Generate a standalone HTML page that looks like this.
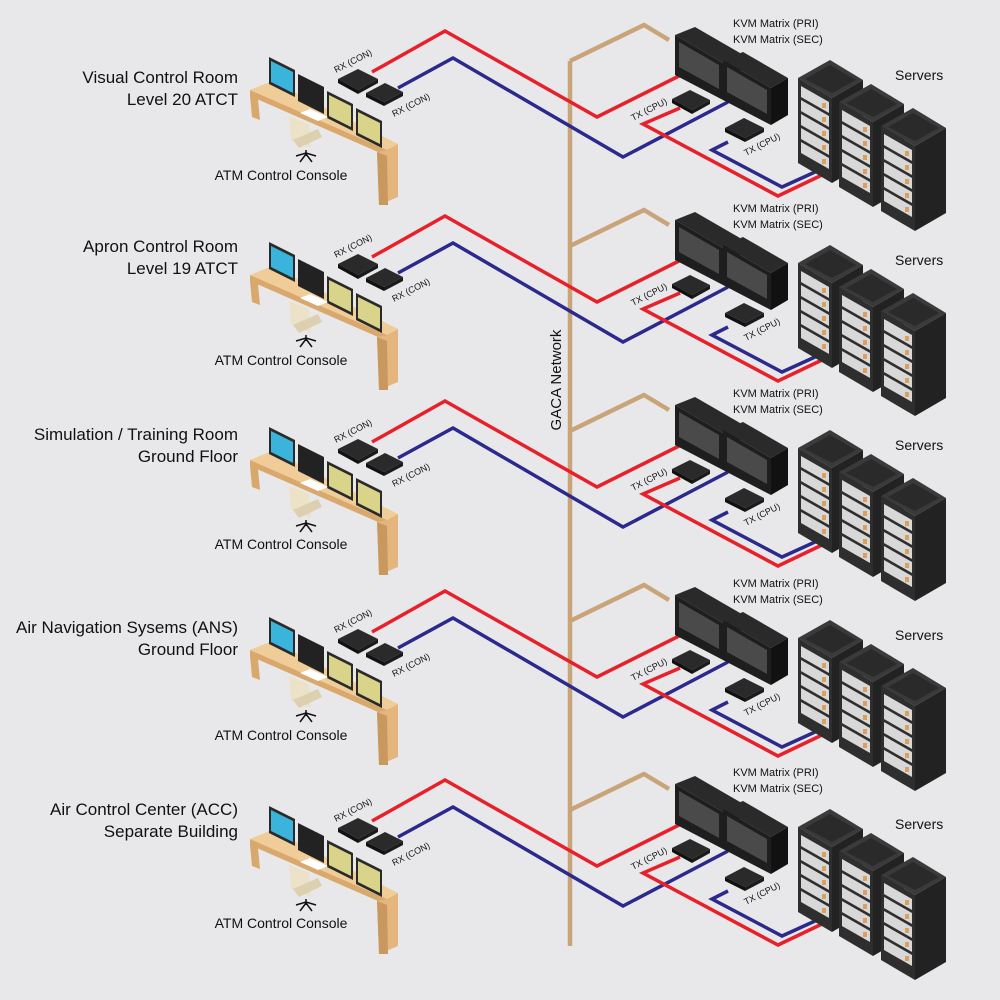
<!DOCTYPE html>
<html><head><meta charset="utf-8"><style>
html,body{margin:0;padding:0;background:#e8e8ea;}
svg{display:block;}
text{font-family:"Liberation Sans",Arial,sans-serif;fill:#111;}
</style></head><body>
<svg width="1000" height="1000" viewBox="0 0 1000 1000" xmlns="http://www.w3.org/2000/svg">
<rect width="1000" height="1000" fill="#e8e8ea"/>
<defs>
<g id="rack">
  <polygon points="798,78 830,60 863,80 832,98" fill="#3a3a3a"/>
  <polygon points="805,79 830,65 856,80 832,93" fill="#2a2a2a"/>
  <polygon points="798,78 832,98 832,183 798,163" fill="#2e2e2e"/>
  <polygon points="832,98 863,80 863,165 832,183" fill="#222"/>
  <polygon points="801,86 829,102 829,113 801,97" fill="#d8d8d8"/>
  <polygon points="801,100 829,116 829,127 801,111" fill="#d8d8d8"/>
  <polygon points="801,114 829,130 829,141 801,125" fill="#d8d8d8"/>
  <polygon points="801,128 829,144 829,155 801,139" fill="#d8d8d8"/>
  <polygon points="801,142 829,158 829,169 801,153" fill="#d8d8d8"/>
  <rect x="822" y="103" width="4" height="5" fill="#d9a060"/>
  <rect x="822" y="117" width="4" height="5" fill="#d9a060"/>
  <rect x="822" y="131" width="4" height="5" fill="#d9a060"/>
  <rect x="822" y="145" width="4" height="5" fill="#d9a060"/>
  <rect x="822" y="159" width="4" height="5" fill="#d9a060"/>
</g>
<g id="kvm">
  <polygon points="675,220 695,212 740,238 723,248" fill="#2a2a2a"/>
  <polygon points="675,220 723,248 723,285 675,260" fill="#1e1e1e"/>
  <polygon points="679,227 719,250 719,274 679,252" fill="#4a4a4a"/>
  <polygon points="723,248 740,238 740,275 723,285" fill="#111"/>
</g>
<g id="sec">
  <polygon points="250,90 272,81 398,144 387,150" fill="#f0cc98"/>
  <polygon points="250,90 387,150 387,156 250,96" fill="#d9a86c"/>
  <polygon points="250,96 258,99 260,120 252,117" fill="#d9a86c"/>
  <polygon points="377,152 387,150 398,144 398,197 379,205" fill="#e4b67e"/>
  <polygon points="377,152 387,156 388,205 379,205" fill="#c9985e"/>
  <polygon points="269,57 295,70 295,97 269,84" fill="#2a2a2a"/>
  <polygon points="271,61 293,72 293,93 271,82" fill="#3bb4dc"/>
  <polygon points="298,74 324,87 324,114 298,101" fill="#222"/>
  <polygon points="327,91 353,104 353,131 327,118" fill="#2a2a2a"/>
  <polygon points="329,95 351,106 351,127 329,116" fill="#d9d48a"/>
  <polygon points="356,108 382,121 382,148 356,135" fill="#2a2a2a"/>
  <polygon points="358,112 380,123 380,144 358,133" fill="#d9d48a"/>
  <polygon points="300,113 318,121 328,117 310,109" fill="#fff"/>
  <polygon points="289,116 309,124 311,148 291,140" fill="#ece2c8"/>
  <polygon points="293,140 318,129 322,137 299,148" fill="#ddd0b0"/>
  <path d="M306,150 l0,6 M296,156 l10,-3 l10,3 M300,162 l6,-8 l6,8" stroke="#111" stroke-width="1.5" fill="none"/>
  <polygon points="338,79 358,69 378,79 358,90" fill="#2a2a2a"/>
  <polygon points="338,79 358,90 358,94 338,83" fill="#111"/>
  <polygon points="358,90 378,79 378,83 358,94" fill="#1a1a1a"/>
  <polygon points="366,93 385,83 403,92 384,102" fill="#2a2a2a"/>
  <polygon points="366,93 384,102 384,106 366,97" fill="#111"/>
  <polygon points="384,102 403,92 403,96 384,106" fill="#1a1a1a"/>
  <polyline points="570,61 644,25 669,40" fill="none" stroke="#c8a478" stroke-width="4.5"/>
  <polyline points="372,72 445,31 597,117 679,76" fill="none" stroke="#e8202a" stroke-width="3.5"/>
  <polyline points="398,88 453,58 623,157 728,102" fill="none" stroke="#2b2a8c" stroke-width="3.5"/>
  <polyline points="680,108 643,124 778,196 822,175" fill="none" stroke="#e8202a" stroke-width="3.5"/>
  <polyline points="728,142 712,150 782,187 815,172" fill="none" stroke="#2b2a8c" stroke-width="3.5"/>
  <use href="#kvm" transform="translate(0,-185)"/>
  <use href="#kvm" transform="translate(48,-160)"/>
  <polygon points="672,99 690,90 710,100 692,110" fill="#2a2a2a"/>
  <polygon points="672,99 692,110 692,114 672,103" fill="#111"/>
  <polygon points="692,110 710,100 710,104 692,114" fill="#1a1a1a"/>
  <polygon points="725,128 744,118 764,128 745,138" fill="#2a2a2a"/>
  <polygon points="725,128 745,138 745,142 725,132" fill="#111"/>
  <polygon points="745,138 764,128 764,132 745,142" fill="#1a1a1a"/>
  <use href="#rack"/>
  <use href="#rack" transform="translate(41,24)"/>
  <use href="#rack" transform="translate(83,48)"/>
</g>
</defs>

<line x1="570" y1="61" x2="570" y2="946" stroke="#c8a478" stroke-width="4.5"/>
<text transform="translate(561,380) rotate(-90)" text-anchor="middle" font-size="15">GACA Network</text>

<use href="#sec"/>
<use href="#sec" transform="translate(0,185)"/>
<use href="#sec" transform="translate(0,370)"/>
<use href="#sec" transform="translate(0,560)"/>
<use href="#sec" transform="translate(0,749)"/>

<g font-size="17" text-anchor="end">
<text x="238" y="83">Visual Control Room</text><text x="238" y="105">Level 20 ATCT</text>
<text x="238" y="252">Apron Control Room</text><text x="238" y="274">Level 19 ATCT</text>
<text x="238" y="440">Simulation / Training Room</text><text x="238" y="462">Ground Floor</text>
<text x="238" y="633">Air Navigation Sysems (ANS)</text><text x="238" y="655">Ground Floor</text>
<text x="238" y="815">Air Control Center (ACC)</text><text x="238" y="837">Separate Building</text>
</g>
<g font-size="14" text-anchor="middle">
<text x="281" y="180">ATM Control Console</text>
<text x="281" y="365">ATM Control Console</text>
<text x="281" y="549">ATM Control Console</text>
<text x="281" y="740">ATM Control Console</text>
<text x="281" y="928">ATM Control Console</text>
</g>
<g font-size="14">
<text x="895" y="80">Servers</text>
<text x="895" y="265">Servers</text>
<text x="895" y="450">Servers</text>
<text x="895" y="640">Servers</text>
<text x="895" y="829">Servers</text>
</g>
<g font-size="11">
<text x="733" y="27">KVM Matrix (PRI)</text><text x="733" y="43">KVM Matrix (SEC)</text>
<text x="733" y="212">KVM Matrix (PRI)</text><text x="733" y="228">KVM Matrix (SEC)</text>
<text x="733" y="397">KVM Matrix (PRI)</text><text x="733" y="413">KVM Matrix (SEC)</text>
<text x="733" y="587">KVM Matrix (PRI)</text><text x="733" y="603">KVM Matrix (SEC)</text>
<text x="733" y="776">KVM Matrix (PRI)</text><text x="733" y="792">KVM Matrix (SEC)</text>
</g>
<g font-size="9">
<text transform="translate(336,73) rotate(-27)">RX (CON)</text>
<text transform="translate(394,117) rotate(-27)">RX (CON)</text>
<text transform="translate(633,121) rotate(-27)">TX (CPU)</text>
<text transform="translate(746,156) rotate(-27)">TX (CPU)</text>
<text transform="translate(336,258) rotate(-27)">RX (CON)</text>
<text transform="translate(394,302) rotate(-27)">RX (CON)</text>
<text transform="translate(633,306) rotate(-27)">TX (CPU)</text>
<text transform="translate(746,341) rotate(-27)">TX (CPU)</text>
<text transform="translate(336,443) rotate(-27)">RX (CON)</text>
<text transform="translate(394,487) rotate(-27)">RX (CON)</text>
<text transform="translate(633,491) rotate(-27)">TX (CPU)</text>
<text transform="translate(746,526) rotate(-27)">TX (CPU)</text>
<text transform="translate(336,633) rotate(-27)">RX (CON)</text>
<text transform="translate(394,677) rotate(-27)">RX (CON)</text>
<text transform="translate(633,681) rotate(-27)">TX (CPU)</text>
<text transform="translate(746,716) rotate(-27)">TX (CPU)</text>
<text transform="translate(336,822) rotate(-27)">RX (CON)</text>
<text transform="translate(394,866) rotate(-27)">RX (CON)</text>
<text transform="translate(633,870) rotate(-27)">TX (CPU)</text>
<text transform="translate(746,905) rotate(-27)">TX (CPU)</text>
</g>
</svg>
</body></html>
